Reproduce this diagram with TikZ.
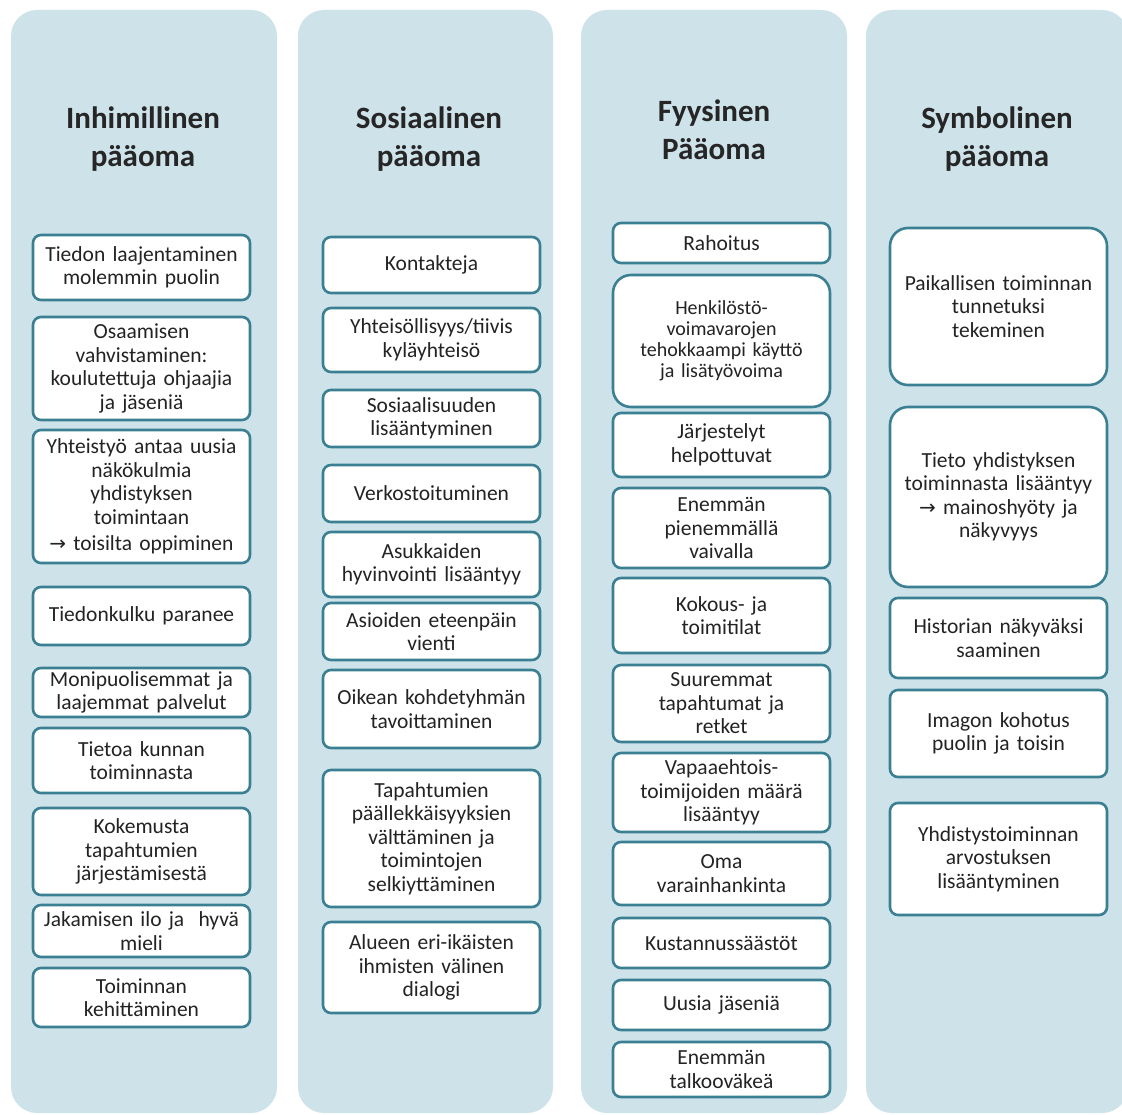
\documentclass[tikz,border=0pt]{standalone}
\usepackage{fontspec}
\setmainfont{Carlito}
\newfontfamily\arrowfont{DejaVu Sans}
\usepackage{tikz}
\usetikzlibrary{positioning}

\definecolor{colbg}{RGB}{206,226,233}
\definecolor{boxline}{RGB}{58,128,146}
\definecolor{boxtext}{RGB}{35,35,35}

\newcommand{\toarrow}{{\arrowfont\fontsize{20}{23}\selectfont →}}

\tikzset{
  column/.style={fill=colbg, draw=none, rounded corners=26pt},
  heading/.style={align=center, font=\fontsize{31}{38}\selectfont\bfseries, text=black!85},
  item/.style={draw=boxline, line width=2.6pt, fill=white, rounded corners=8pt,
    minimum width=217pt, text width=213pt, inner sep=1pt, align=center,
    text=boxtext, font=\fontsize{21.5}{23.5}\selectfont},
  bigitem/.style={item, rounded corners=18pt}
}

\begin{document}
\begin{tikzpicture}[x=1pt,y=-1pt]
\useasboundingbox (0,0) rectangle (1122,1115);
\fill[white] (0,0) rectangle (1122,1115);

% background columns
\fill[column] (11,10) rectangle (277,1113);
\fill[column] (298,10) rectangle (553,1113);
\fill[column] (581,10) rectangle (847,1113);
\fill[column] (866,10) rectangle (1128,1113);

% headings
\node[heading] (hum) at (143,139) {Inhimillinen\\pääoma};
\node[heading] (soc) at (429,139) {Sosiaalinen\\pääoma};
\node[heading] (phy) at (714,130) {Fyysinen\\Pääoma};
\node[heading] (sym) at (997,139) {Symbolinen\\pääoma};

% inhimillinen
\node[item, minimum height=65] (h1) at (141.5,267.5) {Tiedon laajentaminen\\molemmin puolin};
\node[item, minimum height=103] (h2) at (141.5,368.5) {Osaamisen\\vahvistaminen:\\koulutettuja ohjaajia\\ja jäseniä};
\node[item, minimum height=133] (h3) at (141.5,496.5) {Yhteistyö antaa uusia\\näkökulmia\\yhdistyksen\\toimintaan\\[3pt]\toarrow{} toisilta oppiminen};
\node[item, minimum height=58] (h4) at (141.5,616) {Tiedonkulku paranee};
\node[item, minimum height=49] (h5) at (141.5,692.5) {Monipuolisemmat ja\\laajemmat palvelut};
\node[item, minimum height=65] (h6) at (141.5,760.5) {Tietoa kunnan\\toiminnasta};
\node[item, minimum height=87] (h7) at (141.5,851.5) {Kokemusta\\tapahtumien\\järjestämisestä};
\node[item, minimum height=52] (h8) at (141.5,931) {Jakamisen ilo ja~ hyvä\\mieli};
\node[item, minimum height=59] (h9) at (141.5,997.5) {Toiminnan\\kehittäminen};

% sosiaalinen
\node[item, minimum height=56] (s1) at (431.5,265) {Kontakteja};
\node[item, minimum height=64] (s2) at (431.5,340) {Yhteisöllisyys/tiivis\\kyläyhteisö};
\node[item, minimum height=57] (s3) at (431.5,418.5) {Sosiaalisuuden\\lisääntyminen};
\node[item, minimum height=57] (s4) at (431.5,493.5) {Verkostoituminen};
\node[item, minimum height=65] (s5) at (431.5,564.5) {Asukkaiden\\hyvinvointi lisääntyy};
\node[item, minimum height=57] (s6) at (431.5,631.5) {Asioiden eteenpäin\\vienti};
\node[item, minimum height=78] (s7) at (431.5,709) {Oikean kohdetyhmän\\tavoittaminen};
\node[item, minimum height=137] (s8) at (431.5,838.5) {Tapahtumien\\päällekkäisyyksien\\välttäminen ja\\toimintojen\\selkiyttäminen};
\node[item, minimum height=91] (s9) at (431.5,967.5) {Alueen eri-ikäisten\\ihmisten välinen\\dialogi};

% fyysinen
\node[item, minimum height=40] (p1) at (721.5,243) {Rahoitus};
\node[bigitem, minimum height=132, font=\fontsize{20}{21}\selectfont] (p2) at (721.5,341) {Henkilöstö-\\voimavarojen\\tehokkaampi käyttö\\ja lisätyövoima};
\node[item, minimum height=64] (p3) at (721.5,445) {Järjestelyt\\helpottuvat};
\node[item, minimum height=80] (p4) at (721.5,528) {Enemmän\\pienemmällä\\vaivalla};
\node[item, minimum height=75] (p5) at (721.5,615.5) {Kokous- ja\\toimitilat};
\node[item, minimum height=77] (p6) at (721.5,703.5) {Suuremmat\\tapahtumat ja\\retket};
\node[item, minimum height=79] (p7) at (721.5,792.5) {Vapaaehtois-\\toimijoiden määrä\\lisääntyy};
\node[item, minimum height=63] (p8) at (721.5,873.5) {Oma\\varainhankinta};
\node[item, minimum height=50] (p9) at (721.5,943) {Kustannussäästöt};
\node[item, minimum height=50] (p10) at (721.5,1005) {Uusia jäseniä};
\node[item, minimum height=55] (p11) at (721.5,1069.5) {Enemmän\\talkooväkeä};

% symbolinen
\node[bigitem, minimum height=157] (y1) at (998.5,306.5) {Paikallisen toiminnan\\tunnetuksi\\tekeminen};
\node[bigitem, minimum height=180] (y2) at (998.5,497) {Tieto yhdistyksen\\toiminnasta lisääntyy\\\toarrow{} mainoshyöty ja\\näkyvyys};
\node[item, minimum height=80] (y3) at (998.5,638) {Historian näkyväksi\\saaminen};
\node[item, minimum height=87] (y4) at (998.5,733.5) {Imagon kohotus\\puolin ja toisin};
\node[item, minimum height=112] (y5) at (998.5,859) {Yhdistystoiminnan\\arvostuksen\\lisääntyminen};
\end{tikzpicture}
\end{document}
